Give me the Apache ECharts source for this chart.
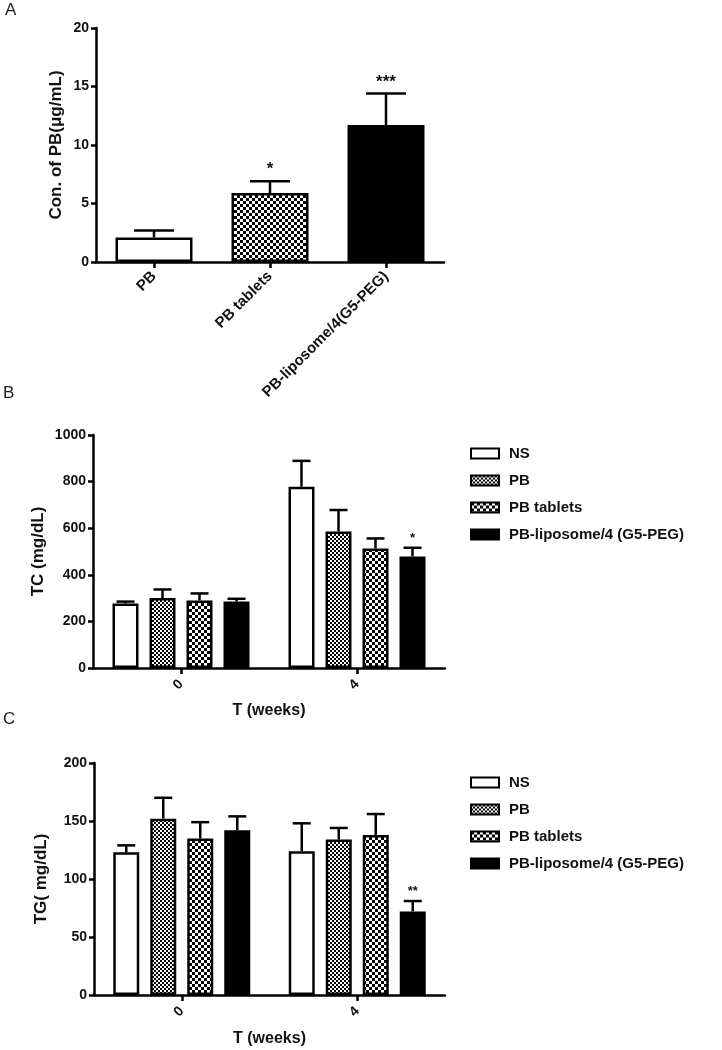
<!DOCTYPE html>
<html>
<head>
<meta charset="utf-8">
<script src="https://cdn.jsdelivr.net/npm/echarts@6/dist/echarts.min.js"></script>
<style>
html,body{margin:0;padding:0;background:#fff;}
#chart{width:722px;height:1050px;}
</style>
</head>
<body>
<div id="chart"></div>
<script>
// ---------- Data ----------
const aCats = ['PB', 'PB tablets', 'PB-liposome/4(G5-PEG)'];
const aMeans = [2.1, 5.9, 11.7];
const aErrs = [0.6, 1.0, 2.7];
const aStars = ['', '*', '***'];

const weeks = ['0', '4'];
const groupNames = ['NS', 'PB', 'PB tablets', 'PB-liposome/4 (G5-PEG)'];

const tcNS = [277, 778];
const tcPB = [300, 586];
const tcTab = [290, 513];
const tcLip = [285, 479];
const tcErrNS = [8, 111];
const tcErrPB = [37, 92];
const tcErrTab = [30, 43];
const tcErrLip = [12, 37];
const tcStarsLip = ['', '*'];

const tgNS = [123, 124];
const tgPB = [152, 134];
const tgTab = [135, 138];
const tgLip = [142, 72];
const tgErrNS = [6, 24];
const tgErrPB = [18, 10];
const tgErrTab = [14, 18];
const tgErrLip = [12, 9];
const tgStarsLip = ['', '**'];

const aTicks = {min: 0, max: 20, interval: 5};
const tcTicks = {min: 0, max: 1000, interval: 200};
const tgTicks = {min: 0, max: 200, interval: 50};

// ---------- Patterns ----------
function checker(cell) {
  const c = document.createElement('canvas');
  c.width = cell * 2; c.height = cell * 2;
  const g = c.getContext('2d');
  g.fillStyle = '#fff'; g.fillRect(0, 0, c.width, c.height);
  g.fillStyle = '#000';
  g.fillRect(0, 0, cell, cell);
  g.fillRect(cell, cell, cell, cell);
  return {image: c, repeat: 'repeat'};
}
const fine = checker(2);
const coarse = checker(3);
const FONT = '"Liberation Sans", Arial, sans-serif';

const styles = [
  {color: '#fff', borderColor: '#000', borderWidth: 2.5},
  {color: fine, borderColor: '#000', borderWidth: 2.5},
  {color: coarse, borderColor: '#000', borderWidth: 2.5},
  {color: '#000', borderColor: '#000', borderWidth: 2.5}
];
const aStyles = [styles[0], styles[2], styles[3]];

// ---------- Axes helpers ----------
function yAxis(gi, ticks, name, gap, nameSize) {
  return {
    type: 'value', gridIndex: gi, min: ticks.min, max: ticks.max, interval: ticks.interval,
    name: name, nameLocation: 'middle', nameGap: gap, nameRotate: 90,
    nameTextStyle: {fontFamily: FONT, fontWeight: 'bold', fontSize: nameSize, color: '#111'},
    axisLine: {show: true, lineStyle: {color: '#000', width: 2.5}},
    axisTick: {show: true, length: 5, lineStyle: {color: '#000', width: 2.5}},
    axisLabel: {fontFamily: FONT, fontWeight: 'bold', fontSize: 14, color: '#111', margin: 7,
      formatter: v => String(v)},
    splitLine: {show: false}
  };
}
function xAxis(gi, cats, name, gap, labelSize, margin) {
  return {
    type: 'category', gridIndex: gi, data: cats,
    name: name, nameLocation: 'middle', nameGap: gap,
    nameTextStyle: {fontFamily: FONT, fontWeight: 'bold', fontSize: 16, color: '#111'},
    axisLine: {show: true, lineStyle: {color: '#000', width: 2.5}},
    axisTick: {show: true, alignWithLabel: true, length: 6, lineStyle: {color: '#000', width: 2.5}},
    axisLabel: {fontFamily: FONT, fontWeight: 'bold', fontSize: labelSize, color: '#111', rotate: 45, margin: margin, interval: 0},
    splitLine: {show: false}
  };
}

// ---------- Error bars ----------
function errSeries(xi, yi, means, errs, stars, offset, capHalf, starSize) {
  return {
    type: 'custom', xAxisIndex: xi, yAxisIndex: yi, z: 5,
    data: means.map((m, j) => [j, m, errs[j], stars ? stars[j] : '']),
    encode: {x: 0, y: 1},
    renderItem: function (params, api) {
      const base = api.coord([api.value(0), api.value(1)]);
      const top = api.coord([api.value(0), api.value(1) + api.value(2)]);
      const x = base[0] + offset;
      const ls = {stroke: '#000', lineWidth: 2.5};
      const children = [
        {type: 'line', shape: {x1: x, y1: base[1], x2: x, y2: top[1]}, style: ls},
        {type: 'line', shape: {x1: x - capHalf, y1: top[1], x2: x + capHalf, y2: top[1]}, style: ls}
      ];
      const s = api.value(3);
      if (s) {
        children.push({type: 'text', x: x, y: top[1] - 3,
          style: {text: s, fill: '#111', font: 'bold ' + starSize + 'px ' + FONT, align: 'center', verticalAlign: 'bottom'}});
      }
      return {type: 'group', children: children};
    }
  };
}

const BW = 26, BGAP = 11;
const step = BW + BGAP;
const offsets = [-1.5 * step, -0.5 * step, 0.5 * step, 1.5 * step];

const tcMeans = [tcNS, tcPB, tcTab, tcLip];
const tcErrs = [tcErrNS, tcErrPB, tcErrTab, tcErrLip];
const tcStars = [null, null, null, tcStarsLip];
const tgMeans = [tgNS, tgPB, tgTab, tgLip];
const tgErrs = [tgErrNS, tgErrPB, tgErrTab, tgErrLip];
const tgStars = [null, null, null, tgStarsLip];

const series = [];
series.push({
  type: 'bar', xAxisIndex: 0, yAxisIndex: 0, barWidth: 77,
  data: aMeans.map((v, i) => ({value: v, itemStyle: aStyles[i]}))
});
series.push(errSeries(0, 0, aMeans, aErrs, aStars, 0, 20, 17));

groupNames.forEach((n, i) => {
  series.push({type: 'bar', name: n, xAxisIndex: 1, yAxisIndex: 1, barWidth: BW,
    barGap: (BGAP / BW * 100) + '%', itemStyle: styles[i], data: tcMeans[i]});
});
groupNames.forEach((n, i) => {
  series.push(errSeries(1, 1, tcMeans[i], tcErrs[i], tcStars[i], offsets[i], 9, 13));
});
groupNames.forEach((n, i) => {
  series.push({type: 'bar', name: n, xAxisIndex: 2, yAxisIndex: 2, barWidth: BW,
    barGap: (BGAP / BW * 100) + '%', itemStyle: styles[i], data: tgMeans[i]});
});
groupNames.forEach((n, i) => {
  series.push(errSeries(2, 2, tgMeans[i], tgErrs[i], tgStars[i], offsets[i], 9, 13));
});

function legend(top) {
  return {
    data: groupNames, orient: 'vertical', left: 465, top: top,
    itemWidth: 28, itemHeight: 10, itemGap: 10, icon: 'rect',
    selectedMode: false,
    textStyle: {fontFamily: FONT, fontWeight: 'bold', fontSize: 15, color: '#111', lineHeight: 17, padding: [0, 0, 0, 5]}
  };
}

const chart = echarts.init(document.getElementById('chart'), null, {renderer: 'canvas'});
chart.setOption({
  animation: false,
  backgroundColor: '#fff',
  grid: [
    {left: 96, top: 28, width: 348, height: 234},
    {left: 93, top: 435, width: 352, height: 233},
    {left: 94, top: 763, width: 351, height: 232}
  ],
  xAxis: [
    xAxis(0, aCats, '', 0, 15, 12),
    xAxis(1, weeks, 'T (weeks)', 35, 14, 14),
    xAxis(2, weeks, 'T (weeks)', 36, 14, 14)
  ],
  yAxis: [
    yAxis(0, aTicks, 'Con. of PB(μg/mL)', 31, 17),
    yAxis(1, tcTicks, 'TC (mg/dL)', 46, 17),
    yAxis(2, tgTicks, 'TG( mg/dL)', 44, 17)
  ],
  legend: [legend(440), legend(769)],
  graphic: [
    {type: 'text', left: 5, top: 2, style: {text: 'A', font: '17px ' + FONT, fill: '#222'}},
    {type: 'text', left: 3, top: 385, style: {text: 'B', font: '17px ' + FONT, fill: '#222'}},
    {type: 'text', left: 3, top: 711, style: {text: 'C', font: '17px ' + FONT, fill: '#222'}}
  ],
  series: series
});
</script>
</body>
</html>
